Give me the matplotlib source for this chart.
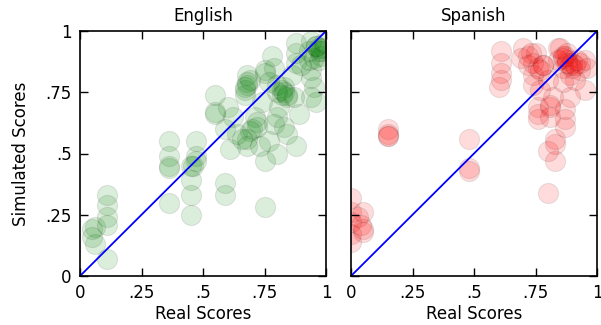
import matplotlib
matplotlib.use('Agg')
import matplotlib.pyplot as plt
from matplotlib.colors import to_rgba

# English: real vs simulated scores
eng_real = [0.05, 0.06, 0.06, 0.05, 0.11, 0.11, 0.11, 0.11, 0.11,
            0.36, 0.36, 0.36, 0.36, 0.36,
            0.47, 0.47, 0.47, 0.46, 0.45, 0.45, 0.45, 0.45,
            0.55, 0.55, 0.55, 0.60, 0.59, 0.59, 0.59, 0.62, 0.61,
            0.68, 0.68, 0.67, 0.67, 0.69, 0.64, 0.68, 0.67,
            0.71, 0.72, 0.70, 0.69, 0.68, 0.68, 0.73, 0.66, 0.72,
            0.75, 0.75, 0.75, 0.75, 0.78, 0.79, 0.77, 0.74,
            0.80, 0.80, 0.79, 0.83, 0.82, 0.84, 0.81, 0.80, 0.83, 0.84, 0.80, 0.77,
            0.82, 0.83, 0.84,
            0.88, 0.88, 0.88, 0.87, 0.89, 0.86, 0.88,
            0.94, 0.94, 0.95, 0.94, 0.93, 0.96,
            0.94, 0.96, 0.97, 0.98, 0.99, 0.97, 0.99, 0.95, 0.93, 0.90,
            0.97, 0.98, 0.96]
eng_sim = [0.19, 0.20, 0.13, 0.16, 0.33, 0.29, 0.24, 0.21, 0.07,
           0.55, 0.49, 0.45, 0.44, 0.30,
           0.55, 0.49, 0.47, 0.45, 0.45, 0.39, 0.33, 0.25,
           0.74, 0.67, 0.66, 0.69, 0.60, 0.38, 0.33, 0.65, 0.52,
           0.82, 0.78, 0.76, 0.74, 0.80, 0.58, 0.79, 0.77,
           0.65, 0.63, 0.60, 0.59, 0.56, 0.53, 0.53, 0.56, 0.61,
           0.84, 0.83, 0.47, 0.28, 0.90, 0.85, 0.79, 0.71,
           0.78, 0.75, 0.62, 0.77, 0.74, 0.73, 0.69, 0.65, 0.61, 0.58, 0.50, 0.55,
           0.76, 0.75, 0.74,
           0.95, 0.91, 0.87, 0.73, 0.66, 0.82, 0.53,
           0.84, 0.81, 0.77, 0.73, 0.88, 0.71,
           0.96, 0.94, 0.92, 0.90, 0.93, 0.88, 0.95, 0.89, 0.92, 0.86,
           0.93, 0.92, 0.94]

# Spanish: real vs simulated scores
spa_real = [0.00, 0.00, 0.00, 0.00, 0.00, 0.03, 0.05, 0.05, 0.05, 0.04,
            0.15, 0.15, 0.15, 0.15,
            0.48, 0.48, 0.48,
            0.80, 0.80, 0.83, 0.83, 0.83,
            0.76, 0.76, 0.76, 0.81, 0.81, 0.81, 0.87, 0.87, 0.87, 0.82,
            0.61, 0.61, 0.61, 0.61, 0.60,
            0.70, 0.69, 0.73, 0.75, 0.74, 0.72, 0.76, 0.78, 0.77, 0.74, 0.74, 0.80, 0.77,
            0.72, 0.78,
            0.85, 0.86, 0.88, 0.89, 0.90, 0.93, 0.95, 0.93, 0.89, 0.95, 0.89, 0.91,
            0.87, 0.86, 0.84, 0.88, 0.90, 0.92, 0.86, 0.84, 0.96,
            0.88, 0.91, 0.86]
spa_sim = [0.32, 0.26, 0.17, 0.14, 0.22, 0.24, 0.26, 0.19, 0.18, 0.21,
           0.60, 0.58, 0.57, 0.57,
           0.56, 0.44, 0.43,
           0.34, 0.51, 0.47, 0.54, 0.56,
           0.69, 0.66, 0.64, 0.70, 0.69, 0.65, 0.68, 0.64, 0.61, 0.73,
           0.92, 0.87, 0.83, 0.80, 0.77,
           0.93, 0.89, 0.91, 0.91, 0.87, 0.86, 0.85, 0.86, 0.84, 0.82, 0.78, 0.80, 0.76,
           0.90, 0.86,
           0.93, 0.90, 0.88, 0.86, 0.87, 0.87, 0.88, 0.84, 0.82, 0.76, 0.73, 0.80,
           0.90, 0.85, 0.88, 0.91, 0.85, 0.88, 0.79, 0.93, 0.85,
           0.87, 0.86, 0.89]

fig = plt.figure(figsize=(6.01, 3.25), dpi=100)
ax1 = fig.add_axes([80 / 601, 49 / 325, 246 / 601, 245 / 325])
ax2 = fig.add_axes([351 / 601, 49 / 325, 246 / 601, 245 / 325])

ticks = [0, 0.25, 0.5, 0.75, 1]
tick_labels = ['0', '.25', '.5', '.75', '1']

for ax, x, y, col, title in [(ax1, eng_real, eng_sim, 'g', 'English'),
                             (ax2, spa_real, spa_sim, 'r', 'Spanish')]:
    ax.scatter(x, y, s=210, facecolors=to_rgba(col, 0.14),
               edgecolors=(0, 0, 0, 0.09), linewidths=0.8)
    ax.plot([0, 1], [0, 1], color='b', lw=1.3)
    ax.set_xlim(0, 1)
    ax.set_ylim(0, 1)
    ax.set_xticks(ticks)
    ax.set_xticklabels(tick_labels)
    ax.set_yticks(ticks)
    ax.tick_params(direction='in', top=True, right=True, length=6,
                   labelsize=12, pad=6, width=1)
    for sp in ax.spines.values():
        sp.set_linewidth(1.2)
    ax.set_title(title, fontsize=12, pad=7)
    ax.set_xlabel('Real Scores', fontsize=12, labelpad=2)

ax1.set_yticklabels(tick_labels)
ax2.set_yticklabels([])
ax1.set_ylabel('Simulated Scores', fontsize=12, labelpad=11)

fig.savefig('out.png', dpi=100)
